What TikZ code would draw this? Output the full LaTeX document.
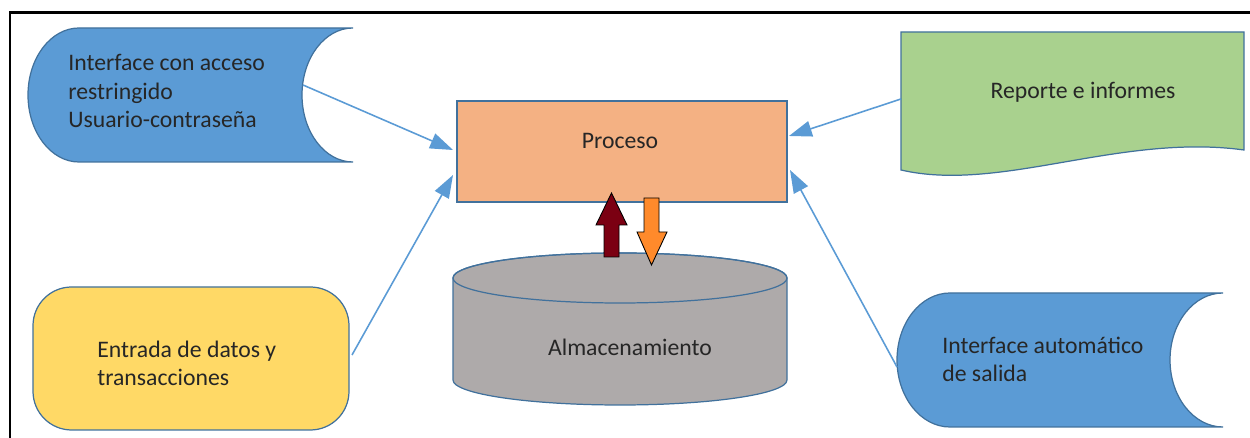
\documentclass[tikz,border=0pt]{standalone}
\usepackage{fontspec}
\setmainfont{Carlito}
\usetikzlibrary{arrows.meta}
\definecolor{sblue}{HTML}{5B9BD5}
\definecolor{sedge}{HTML}{41719C}
\definecolor{sgreen}{HTML}{A9D18E}
\definecolor{sorange}{HTML}{F4B183}
\definecolor{sgray}{HTML}{AEAAAA}
\definecolor{syellow}{HTML}{FFD966}
\definecolor{sred}{HTML}{7B0012}
\definecolor{sorg}{HTML}{FF8A2B}
\definecolor{sline}{HTML}{5B9BD5}
\tikzset{
  shapeedge/.style={draw=sedge, line width=0.7pt},
  lbl/.style={inner sep=0pt, font=\fontsize{13.5}{16}\selectfont, text=black!85},
  conn/.style={draw=sline, line width=0.9pt, -{Triangle[length=13pt,width=9pt]}},
  blockarrow/.style={draw=black, line width=0.5pt}
}
\begin{document}
\begin{tikzpicture}[x=0.02cm, y=0.02cm]
\useasboundingbox (0,0) rectangle (1250,438);
% frame (right and bottom edges outside the picture)
\draw[line width=1.7pt] (10,-5) -- (10,425) -- (1260,425);

% top-left stored data
\path[fill=sblue, shapeedge] (353,410) -- (79,410)
  arc[start angle=90, end angle=270, x radius=51, y radius=67] -- (353,276)
  arc[start angle=270, end angle=90, x radius=51, y radius=67] -- cycle;
\node[lbl, align=left, anchor=west] (tl) at (68,347) {Interface con acceso\\restringido\\Usuario-contraseña};

% green document
\path[fill=sgreen, shapeedge] (901,268) -- (901,406) -- (1244,406) -- (1244,288)
  .. controls (1120,305) and (1000,245) .. (901,268) -- cycle;
\node[lbl] (rep) at (1083,346) {Reporte e informes};

% yellow rounded rectangle
\path[fill=syellow, shapeedge, rounded corners=22] (33,8) rectangle (349,151);
\node[lbl, align=left, anchor=west] (ent) at (97,74.5) {Entrada de datos y\\transacciones};

% bottom-right stored data
\path[fill=sblue, shapeedge] (1223,145) -- (950,145)
  arc[start angle=90, end angle=270, x radius=53, y radius=67] -- (1223,11)
  arc[start angle=270, end angle=90, x radius=53, y radius=67] -- cycle;
\node[lbl, align=left, anchor=west] (aut) at (942,79) {Interface automático\\de salida};

% process
\path[fill=sorange, shapeedge] (457,236) rectangle (787,337);
\node[lbl] (proc) at (620,297) {Proceso};

% cylinder
\path[fill=sgray, shapeedge] (453,160) -- (453,58)
  arc[start angle=180, end angle=360, x radius=167, y radius=25] -- (787,160)
  arc[start angle=0, end angle=180, x radius=167, y radius=25] -- cycle;
\draw[shapeedge] (620,160) ellipse[x radius=167, y radius=25];
\node[lbl] (alm) at (630,91) {Almacenamiento};

% block arrows
\path[fill=sred, blockarrow] (604,181) -- (604,213) -- (596,213) -- (611.5,245)
  -- (627,213) -- (619,213) -- (619,181) -- cycle;
\path[fill=sorg, blockarrow] (644,240) -- (644,206) -- (637,206) -- (651.5,173)
  -- (667,206) -- (659,206) -- (659,240) -- cycle;

% connector end points
\coordinate (tlOut) at (303,353);
\coordinate (entOut) at (352,83);
\coordinate (repOut) at (901,339);
\coordinate (autOut) at (897,71);
\coordinate (procIn1) at (453,288);
\coordinate (procIn2) at (453,263);
\coordinate (procIn3) at (789,302);
\coordinate (procIn4) at (790,268);

\draw[conn] (tlOut) -- (procIn1);
\draw[conn] (entOut) -- (procIn2);
\draw[conn] (repOut) -- (procIn3);
\draw[conn] (autOut) -- (procIn4);
\end{tikzpicture}
\end{document}
